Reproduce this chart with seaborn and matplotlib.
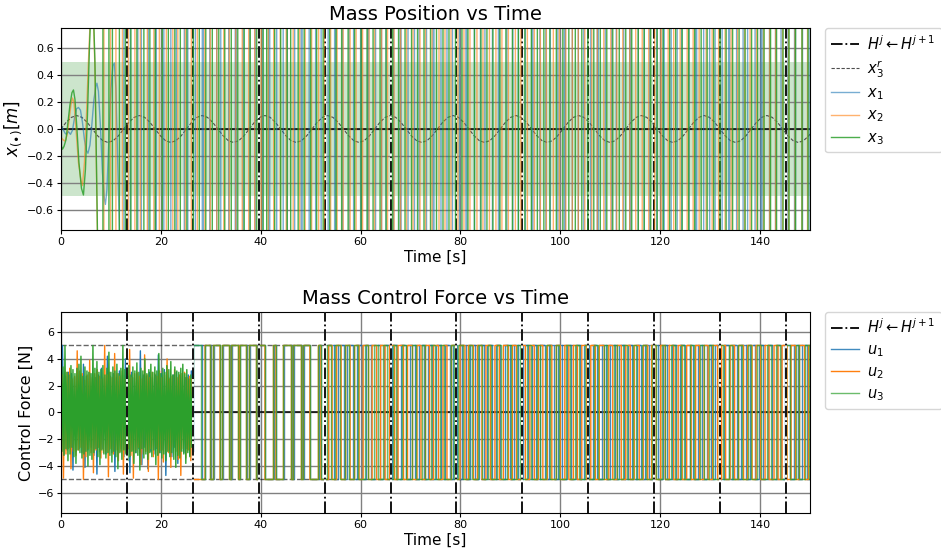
import numpy as np
import pandas as pd
import matplotlib
matplotlib.use("Agg")
import matplotlib.pyplot as plt
import seaborn as sns

# ---------------- data ----------------
t_end = 150.0
H_times = [13.2, 26.4, 39.6, 52.8, 66.0, 79.2, 92.4, 105.6, 118.8, 132.0, 145.2]

# reference x3^r sampled every ref_dt seconds
ref_dt = 1.0472
ref_vals = [
    0.0, 0.05, 0.0866, 0.1, 0.0866, 0.05, 0.0, -0.05, -0.0866, -0.1, -0.0866, -0.05,
    0.0, 0.05, 0.0866, 0.1, 0.0866, 0.05, 0.0, -0.05, -0.0866, -0.1, -0.0866, -0.05,
    0.0, 0.05, 0.0866, 0.1, 0.0866, 0.05, 0.0, -0.05, -0.0866, -0.1, -0.0866, -0.05,
    0.0, 0.05, 0.0866, 0.1, 0.0866, 0.05, 0.0, -0.05, -0.0866, -0.1, -0.0866, -0.05,
    0.0, 0.05, 0.0866, 0.1, 0.0866, 0.05, 0.0, -0.05, -0.0866, -0.1, -0.0866, -0.05,
    0.0, 0.05, 0.0866, 0.1, 0.0866, 0.05, 0.0, -0.05, -0.0866, -0.1, -0.0866, -0.05,
    0.0, 0.05, 0.0866, 0.1, 0.0866, 0.05, 0.0, -0.05, -0.0866, -0.1, -0.0866, -0.05,
    0.0, 0.05, 0.0866, 0.1, 0.0866, 0.05, 0.0, -0.05, -0.0866, -0.1, -0.0866, -0.05,
    0.0, 0.05, 0.0866, 0.1, 0.0866, 0.05, 0.0, -0.05, -0.0866, -0.1, -0.0866, -0.05,
    0.0, 0.05, 0.0866, 0.1, 0.0866, 0.05, 0.0, -0.05, -0.0866, -0.1, -0.0866, -0.05,
    0.0, 0.05, 0.0866, 0.1, 0.0866, 0.05, 0.0, -0.05, -0.0866, -0.1, -0.0866, -0.05,
    0.0, 0.05, 0.0866, 0.1, 0.0866, 0.05, 0.0, -0.05, -0.0866, -0.1, -0.0866, -0.05,
    0.0,
]

# mass positions: early transient (t, value) ...
x1_t = [0.0, 0.4, 0.8, 1.1, 1.5, 1.9, 2.3, 2.7, 3.1, 3.5, 3.9, 4.3, 4.7, 5.1, 5.4, 5.8, 6.2,
        6.6, 7.0, 7.2, 7.5, 7.9, 8.3, 8.7, 8.9, 9.2, 9.6, 10.0, 10.4, 10.7, 11.0, 11.4, 11.8]
x1_v = [0.02, 0.0, -0.03, -0.04, -0.02, -0.04, -0.01, 0.08, 0.15, 0.16, 0.14, 0.05, -0.08,
        -0.16, -0.18, -0.12, 0.04, 0.22, 0.32, 0.34, 0.28, 0.02, -0.32, -0.52, -0.56, -0.45,
        -0.08, 0.3, 0.47, 0.49, 0.3, -0.3, -0.9]
x2_t = [0.0, 0.4, 0.8, 1.2, 1.6, 2.0, 2.3, 2.6, 3.0, 3.5, 4.0, 4.3, 4.7, 5.1, 5.5, 5.9,
        6.4, 6.8, 7.3, 7.7]
x2_v = [-0.06, -0.08, -0.09, -0.05, 0.06, 0.18, 0.23, 0.2, 0.0, -0.25, -0.38, -0.42, -0.25,
        0.1, 0.5, 0.85, 0.95, 0.45, -0.8, -1.5]
x3_t = [0.0, 0.3, 0.6, 1.0, 1.4, 1.8, 2.2, 2.5, 2.8, 3.2, 3.6, 4.1, 4.5, 4.9, 5.3, 5.7,
        6.0, 6.4, 6.8, 7.3, 7.7]
x3_v = [-0.12, -0.15, -0.13, -0.08, 0.05, 0.18, 0.27, 0.29, 0.22, 0.0, -0.25, -0.44, -0.49,
        -0.3, 0.1, 0.6, 0.9, 1.0, 0.5, -0.75, -1.5]

# ... then diverging oscillation: times where each trajectory sweeps through the window
x_far = 5.0
x1_cross = [12.6, 13.9, 15.4, 16.1, 17.5, 18.9, 19.1, 20.6, 22.0, 23.1, 24.7, 25.4, 26.9, 28.3,
            28.5, 29.8, 31.2, 32.0, 33.6, 34.9, 35.1, 36.5, 37.8, 38.9, 40.3, 41.6, 41.8, 43.2,
            44.5, 45.3, 46.8, 48.1, 48.3, 49.7, 51.0, 52.1, 53.5, 54.8, 55.0, 56.4, 57.7, 58.6,
            60.0, 61.4, 61.6, 63.0, 64.2, 65.1, 66.6, 67.9, 68.1, 69.5, 70.8, 71.7, 73.2, 74.5,
            74.7, 76.1, 77.3, 78.4, 79.8, 81.1, 81.3, 82.8, 84.0, 84.9, 86.4, 87.6, 87.8, 89.3,
            90.5, 91.6, 93.0, 94.3, 94.5, 95.9, 97.1, 98.0, 99.5, 100.8, 101.0, 102.4, 103.6,
            104.7, 106.1, 107.4, 107.6, 109.0, 110.3, 111.2, 112.7, 113.9, 114.1, 115.6, 116.8,
            117.9, 119.3, 120.6, 120.8, 122.2, 123.4, 124.3, 125.8, 127.1, 127.3, 128.7, 129.9,
            131.0, 132.4, 133.7, 133.9, 135.3, 136.6, 137.5, 139.0, 140.2, 140.4, 141.9, 143.1,
            144.2, 145.6, 146.9, 147.1, 148.5, 149.8]
x2_cross = [8.6, 9.9, 11.0, 12.3, 13.5, 14.8, 15.9, 17.3, 18.6, 19.7, 21.1, 22.4, 23.4, 24.9,
            26.1, 27.3, 28.8, 29.9, 31.2, 32.6, 33.7, 35.0, 36.3, 37.6, 38.8, 40.1, 41.5, 42.6,
            43.9, 45.1, 46.5, 47.8, 48.9, 50.2, 51.6, 52.7, 54.0, 55.3, 56.5, 57.9, 59.1, 60.4,
            61.7, 62.8, 64.2, 65.4, 66.7, 68.0, 69.2, 70.5, 71.9, 73.0, 74.3, 75.7, 76.9, 78.1,
            79.5, 80.7, 81.9, 83.3, 84.5, 85.8, 87.1, 88.3, 89.6, 91.0, 92.1, 93.4, 94.8, 96.0,
            97.2, 98.6, 99.8, 101.1, 102.4, 103.6, 104.9, 106.3, 107.4, 108.7, 110.1, 111.3,
            112.5, 113.9, 115.1, 116.4, 117.7, 118.9, 120.2, 121.6, 122.7, 124.0, 125.4, 126.6,
            127.8, 129.2, 130.4, 131.7, 133.0, 134.2, 135.5, 136.9, 138.0, 139.3, 140.7, 141.9,
            143.1, 144.5, 145.7, 147.0, 148.4, 149.5]
x3_cross = [8.4, 9.6, 10.3, 11.7, 12.9, 14.0, 15.2, 16.6, 17.8, 18.9, 20.3, 21.5, 22.8, 23.9,
            25.2, 26.5, 27.7, 29.0, 30.3, 31.6, 32.8, 34.1, 35.4, 36.7, 37.9, 39.2, 40.5, 41.2,
            42.8, 44.0, 45.3, 46.0, 47.5, 48.7, 50.0, 51.2, 52.5, 53.8, 55.1, 56.2, 57.5, 58.8,
            60.1, 61.3, 62.5, 63.9, 65.1, 66.4, 67.6, 68.9, 70.2, 71.4, 72.7, 74.0, 75.2, 76.5,
            77.7, 79.0, 80.3, 81.5, 82.8, 84.1, 85.3, 86.5, 87.9, 89.1, 90.4, 91.6, 92.9, 94.2,
            95.4, 96.7, 97.9, 99.2, 100.5, 101.7, 103.0, 104.3, 105.5, 106.7, 108.0, 109.3,
            110.5, 111.8, 113.1, 114.3, 115.6, 116.8, 118.1, 119.4, 120.6, 121.9, 123.1, 124.4,
            125.7, 126.9, 128.2, 129.4, 130.7, 132.0, 133.2, 134.5, 135.8, 137.0, 138.3, 139.5,
            140.8, 142.1, 143.3, 144.6, 145.8, 147.1, 148.4, 149.6]

# control forces: noisy phase (uniformly sampled) then bang-bang switching
u_max = 5.0
u_switch_start = 26.4
u1_dt = 0.3
u1_noise = [-4.9, 5.0, -3.1, 2.7, -2.8, 3.0, -2.6, 2.9, -4.3, 2.6,
            -2.9, 3.2, -2.7, 2.8, -3.0, 3.6, -4.1, 2.7, -2.8, 3.0,
            -2.6, 2.9, -3.2, 2.6, -4.6, 2.8, -2.9, 3.3, -2.7, 2.6,
            -3.1, 4.2, -2.8, 2.7, -3.0, 2.9, -4.4, 2.6, -2.9, 3.1,
            -2.7, 2.8, -3.3, 4.0, -2.6, 2.7, -4.5, 3.0, -2.8, 2.6,
            -3.0, 2.9, -2.7, 4.6, -3.9, 2.8, -2.6, 2.7, -4.2, 3.0,
            -2.9, 2.6, -3.1, 2.8, -2.7, 4.3, -3.0, 2.9, -2.8, 3.2,
            -4.7, 2.7, -2.9, 2.6, -3.3, 2.8, -2.6, 3.0, -3.8, 2.7,
            -2.8, 2.9, -3.0, 2.6, -2.7, 2.8, -3.2, 3.1, -2.9]
u2_dt = 0.25
u2_noise = [-3.0, 2.8, -4.9, 2.6, -3.1, 3.0, -2.7, 3.3, -4.2, 2.5,
            -2.9, 2.7, -3.2, 4.6, -2.8, 3.1, -2.6, 2.9, -5.0, 2.4,
            -3.3, 2.8, -2.7, 3.9, -3.0, 2.6, -4.5, 2.9, -2.8, 3.2,
            -2.6, 2.7, -3.4, 2.5, -3.0, 5.0, -2.9, 2.8, -4.8, 3.0,
            -2.7, 2.6, -3.1, 4.4, -2.8, 2.9, -3.6, 2.7, -2.9, 3.1,
            -4.6, 2.5, -3.0, 2.8, -2.7, 4.7, -3.2, 2.6, -4.9, 2.9,
            -2.8, 3.0, -2.6, 2.7, -3.9, 2.5, -3.1, 4.3, -2.9, 2.8,
            -4.4, 2.6, -2.7, 3.0, -3.3, 2.9, -2.6, 2.7, -5.0, 3.1,
            -2.8, 2.6, -3.7, 2.8, -2.9, 4.0, -3.0, 2.5, -4.1, 2.7,
            -2.6, 3.2, -2.9, 2.6, -3.5, 2.8, -4.7, 2.9, -2.7, 3.0,
            -3.4, 2.6, -2.8, 2.7, -3.6, 2.5]
u3_dt = 0.2
u3_noise = [3.1, -2.9, 3.4, -3.2, 5.0, -2.7, 3.0, -3.6, 2.8, -3.1,
            3.5, -2.6, 3.2, -3.3, 2.9, -3.8, 3.3, -2.8, 3.6, -3.0,
            4.2, -3.4, 2.7, -3.1, 3.4, -2.9, 3.1, -4.0, 3.0, -3.2,
            2.9, -3.5, 5.0, -3.0, 3.3, -2.7, 3.8, -3.3, 3.0, -3.9,
            3.2, -2.8, 3.5, -3.1, 2.8, -3.4, 3.3, -3.0, 4.5, -3.2,
            3.0, -3.7, 3.4, -2.9, 3.1, -3.3, 3.6, -4.2, 2.9, -3.0,
            3.3, -3.5, 5.0, -2.8, 3.2, -3.1, 3.0, -3.6, 3.5, -3.3,
            2.8, -2.9, 3.4, -3.8, 3.1, -3.0, 3.7, -3.2, 3.0, -4.3,
            3.3, -2.7, 3.1, -3.4, 4.0, -3.1, 2.9, -3.5, 3.2, -3.0,
            3.6, -3.3, 3.0, -2.8, 3.4, -3.9, 3.1, -3.2, 4.4, -3.0,
            2.9, -3.4, 3.3, -3.1, 3.0, -3.6, 3.5, -2.9, 3.2, -3.3,
            3.8, -3.0, 2.8, -3.5, 3.4, -4.1, 3.1, -3.2, 3.0, -3.4,
            3.3, -2.9, 3.6, -3.1, 2.9, -3.8, 3.2, -3.0, 2.5, -3.3,
            2.8, -2.6, 2.4]

u1_start, u2_start, u3_start = 1, -1, 1
u1_switch = [28.2, 28.9, 30.0, 30.6, 31.9, 32.4, 33.8, 34.2, 35.6, 35.9, 37.2, 37.8, 39.2, 39.6,
             40.9, 42.6, 43.1, 44.6, 46.2, 46.6, 48.2, 48.6, 49.9, 51.6, 52.1, 53.4, 54.6, 55.5,
             56.6, 57.3, 58.4, 59.2, 60.3, 61.1, 62.0, 63.0, 63.8, 64.7, 65.6, 66.3, 67.3, 68.1,
             69.0, 69.8, 70.8, 71.6, 72.6, 73.4, 74.4, 75.1, 76.1, 77.0, 77.9, 78.6, 79.4, 80.3,
             81.2, 82.0, 83.0, 83.8, 84.7, 85.4, 86.4, 87.2, 88.0, 88.9, 89.9, 90.7, 91.6, 92.5,
             93.5, 94.3, 95.2, 96.0, 96.9, 97.8, 98.7, 99.5, 100.4, 101.3, 102.2, 103.1, 104.0,
             104.8, 105.8, 106.5, 107.4, 108.3, 109.1, 110.0, 110.9, 111.8, 112.7, 113.6, 114.4,
             115.3, 116.2, 117.0, 117.8, 118.8, 119.6, 120.5, 121.4, 122.3, 123.2, 124.0, 124.9,
             125.9, 126.6, 127.5, 128.4, 129.3, 130.1, 131.0, 131.9, 132.8, 133.7, 134.6, 135.4,
             136.2, 137.2, 138.0, 138.9, 139.7, 140.6, 141.5, 142.4, 143.3, 144.1, 145.0, 145.9,
             146.7, 147.6, 148.4, 149.3]
u2_switch = [28.85, 29.95, 30.55, 31.85, 32.35, 33.75, 34.15, 35.55, 35.85, 37.15, 37.75, 39.15,
             39.55, 40.85, 42.55, 43.05, 44.55, 46.15, 46.55, 48.15, 48.55, 49.85, 51.55, 52.05,
             53.6, 54.3, 55.2, 56.1, 57.0, 57.9, 58.8, 59.7, 60.5, 61.6, 62.3, 63.2, 64.0, 64.9,
             65.8, 66.8, 67.5, 68.6, 69.4, 70.4, 71.3, 72.1, 73.0, 73.8, 74.6, 75.6, 76.5, 77.3,
             78.2, 79.1, 79.9, 80.9, 81.6, 82.6, 83.4, 84.3, 85.1, 86.0, 86.9, 87.8, 88.6, 89.6,
             90.4, 91.2, 92.3, 93.0, 93.9, 94.8, 95.6, 96.5, 97.4, 98.3, 99.2, 100.0, 100.9,
             101.7, 102.6, 103.4, 104.3, 105.3, 106.1, 107.0, 107.8, 108.8, 109.7, 110.5, 111.4,
             112.2, 113.1, 114.0, 114.8, 115.8, 116.6, 117.5, 118.3, 119.2, 120.1, 121.0, 121.8,
             122.7, 123.6, 124.4, 125.3, 126.2, 127.1, 127.9, 128.8, 129.6, 130.5, 131.5, 132.3,
             133.1, 134.0, 134.9, 135.7, 136.7, 137.5, 138.4, 139.2, 140.1, 141.0, 141.8, 142.8,
             143.6, 144.4, 145.4, 146.2, 147.1, 147.9, 148.9, 149.7]
u3_switch = [28.1, 28.8, 29.9, 30.5, 31.8, 32.3, 33.7, 34.1, 35.5, 35.8, 37.1, 37.7, 39.1, 39.5,
             40.8, 42.5, 43.0, 44.5, 46.1, 46.5, 48.1, 48.5, 49.8, 51.5, 52.0, 53.2, 54.0, 54.9,
             55.8, 56.9, 57.6, 58.7, 59.5, 60.8, 61.4, 62.6, 63.5, 64.4, 65.2, 66.5, 67.0, 68.3,
             69.1, 70.2, 71.0, 72.3, 72.9, 74.1, 74.9, 76.0, 76.8, 78.1, 78.7, 79.6, 80.5, 81.8,
             82.4, 83.5, 84.3, 85.6, 86.1, 87.4, 88.2, 89.3, 90.1, 91.4, 92.0, 93.3, 94.1, 95.3,
             95.9, 97.2, 98.0, 99.1, 99.8, 101.1, 101.9, 103.0, 103.7, 104.9, 105.6, 106.8,
             107.6, 108.7, 109.4, 110.7, 111.3, 112.6, 113.4, 114.5, 115.2, 116.4, 117.1, 118.3,
             119.1, 120.3, 120.9, 122.2, 123.0, 124.1, 124.8, 126.0, 126.7, 127.9, 128.7, 129.8,
             130.5, 131.8, 132.6, 133.7, 134.4, 135.6, 136.4, 137.5, 138.2, 139.4, 140.1, 141.3,
             142.1, 143.2, 144.0, 145.2, 145.9, 147.1, 147.8, 149.0, 149.8]

# ---------------- helpers ----------------
def sweep_series(t0, v0, cross, amp):
    """Transient points followed by vertical sweeps (amp sign alternates)."""
    t, v = list(t0), list(v0)
    lvl = -amp
    for c in cross:
        t += [c, c]
        v += [lvl, -lvl]
        lvl = -lvl
    t.append(t_end)
    v.append(lvl)
    return t, v

def force_series(noise, dt, start_sign, switch):
    nt = list(np.arange(len(noise)) * dt)
    nv = list(noise)
    lvl = start_sign * u_max
    t = [nt[-1], u_switch_start]
    v = [nv[-1], lvl]
    for s in switch:
        t += [s, s]
        v += [lvl, -lvl]
        lvl = -lvl
    t.append(t_end)
    v.append(lvl)
    return nt, nv, t, v

# ---------------- figure ----------------
plt.rcParams['font.family'] = ['DejaVu Sans']
fig = plt.figure(figsize=(9.41, 5.5), dpi=100)
ax1 = fig.add_axes([0.0648, 0.5818, 0.796, 0.3673])
ax2 = fig.add_axes([0.0648, 0.0673, 0.796, 0.3655])

blue, orange, green = '#1f77b4', '#ff7f0e', '#2ca02c'
H_label = r'$H^j \leftarrow H^{j+1}$'
leg_kw = dict(loc='upper left', bbox_to_anchor=(1.02, 1.0), borderaxespad=0,
              fontsize=10.5, labelspacing=0.38, handlelength=1.9, handletextpad=0.6,
              borderpad=0.4)

def vlines(ax, z):
    for i, h in enumerate(H_times):
        ax.axvline(h, color='w', lw=1.3, zorder=z - 0.01)
        ax.axvline(h, color='k', ls='-.', lw=1.3, zorder=z,
                   label=H_label if i == 0 else '_nolegend_')

# ---- top: positions ----
ax1.axhspan(-0.5, 0.5, color='green', alpha=0.2, lw=0, zorder=0.5)
ax1.axhline(0, color='k', lw=1.1, zorder=1.8)
vlines(ax1, 1.95)
ref_t = np.arange(len(ref_vals)) * ref_dt
sns.lineplot(x=ref_t, y=ref_vals, ax=ax1, color='0.3', lw=0.8, ls=(0, (3, 1.5)),
             sort=False, estimator=None, label=r'$x_3^r$')
for (tt, vv, cr, col, al, lab) in [
        (x1_t, x1_v, x1_cross, blue, 0.6, r'$x_1$'),
        (x2_t, x2_v, x2_cross, orange, 0.6, r'$x_2$'),
        (x3_t, x3_v, x3_cross, green, 0.85, r'$x_3$')]:
    st, sv = sweep_series(tt, vv, cr, x_far)
    sns.lineplot(x=st, y=sv, ax=ax1, color=col, alpha=al, lw=1.0,
                 sort=False, estimator=None, label=lab)

ax1.set_xlim(0, 150)
ax1.set_ylim(-0.75, 0.75)
ax1.set_yticks([-0.6, -0.4, -0.2, 0.0, 0.2, 0.4, 0.6])
ax1.set_xticks([0, 20, 40, 60, 80, 100, 120, 140])
ax1.grid(True, color='gray', lw=1.0)
ax1.set_axisbelow(True)
ax1.tick_params(labelsize=8, length=2.6, pad=2.4)
ax1.set_title('Mass Position vs Time', fontsize=14)
ax1.set_xlabel('Time [s]', fontsize=11, labelpad=2)
ax1.set_ylabel(r'$x_{(\bullet)}[m]$', fontsize=12, labelpad=2)
h, l = ax1.get_legend_handles_labels()
ax1.legend(h, l, **leg_kw)

# ---- bottom: control forces ----
ax2.axhline(0, color='k', lw=1.1, zorder=1.8)
ax2.axhline(u_max, color='k', ls='--', lw=1.0, alpha=0.6, zorder=1.9)
ax2.axhline(-u_max, color='k', ls='--', lw=1.0, alpha=0.6, zorder=1.9)
for (nz, dt, s0, sw, col, al, lab) in [
        (u1_noise, u1_dt, u1_start, u1_switch, blue, 0.85, r'$u_1$'),
        (u2_noise, u2_dt, u2_start, u2_switch, orange, 1.0, r'$u_2$'),
        (u3_noise, u3_dt, u3_start, u3_switch, green, 0.7, r'$u_3$')]:
    nt, nv, ft, fv = force_series(nz, dt, s0, sw)
    sns.lineplot(x=nt, y=nv, ax=ax2, color=col, alpha=1.0, lw=1.0,
                 sort=False, estimator=None, label='_nolegend_')
    sns.lineplot(x=ft, y=fv, ax=ax2, color=col, alpha=al, lw=1.0,
                 sort=False, estimator=None, label=lab)
vlines(ax2, 3)

ax2.set_xlim(0, 150)
ax2.set_ylim(-7.5, 7.5)
ax2.set_yticks([-6, -4, -2, 0, 2, 4, 6])
ax2.set_xticks([0, 20, 40, 60, 80, 100, 120, 140])
ax2.grid(True, color='gray', lw=1.0)
ax2.set_axisbelow(True)
ax2.tick_params(labelsize=8, length=2.6, pad=2.4)
ax2.set_title('Mass Control Force vs Time', fontsize=14)
ax2.set_xlabel('Time [s]', fontsize=11, labelpad=2)
ax2.set_ylabel('Control Force [N]', fontsize=11.5, labelpad=3)
h, l = ax2.get_legend_handles_labels()
order = [l.index(H_label), l.index(r'$u_1$'), l.index(r'$u_2$'), l.index(r'$u_3$')]
ax2.legend([h[i] for i in order], [l[i] for i in order], **leg_kw)

fig.savefig('out.png', dpi=100)
